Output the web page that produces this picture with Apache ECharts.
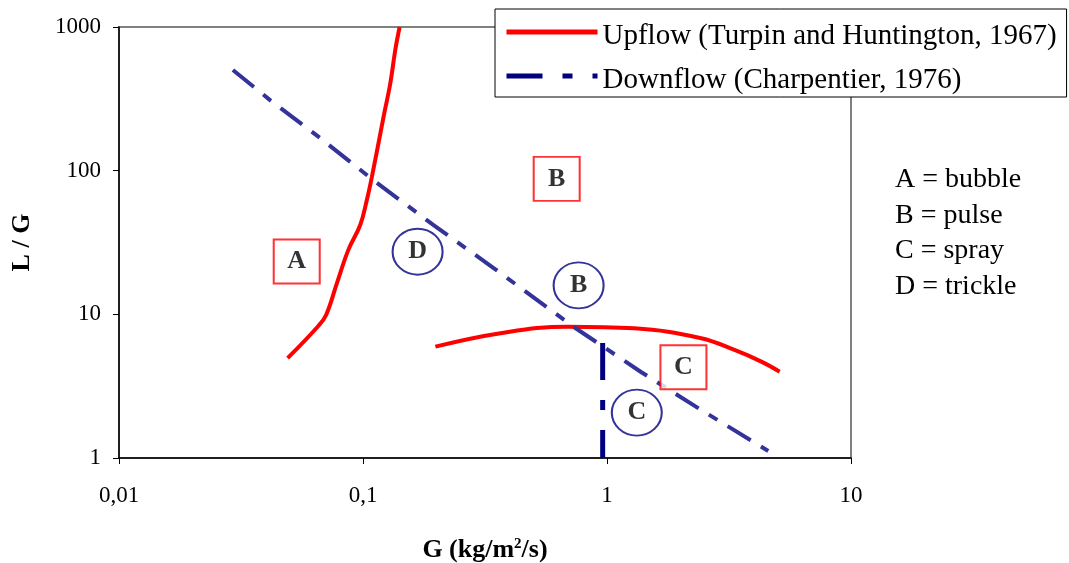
<!DOCTYPE html>
<html>
<head>
<meta charset="utf-8">
<script src="https://cdn.jsdelivr.net/npm/echarts@6/dist/echarts.min.js"></script>
<style>
  html, body { margin: 0; padding: 0; background: #fff; }
  #chart { width: 1069px; height: 563px; }
</style>
</head>
<body>
<div id="chart"></div>
<script>
// axis ticks
const xTicks = [0.01, 0.1, 1, 10]
const xTickLabels = ['0,01', '0,1', '1', '10']
const yTicks = [1, 10, 100, 1000]
const yTickLabels = ['1', '10', '100', '1000']

// Upflow (Turpin and Huntington, 1967): G, L/G
const upflowLowG = [0.0491, 0.0656, 0.0706, 0.0782, 0.0871, 0.0974, 0.1037, 0.1088, 0.1214, 0.1294, 0.1356, 0.1413]
const upflowLowLG = [4.95, 8.3, 9.9, 16.5, 28.1, 41.9, 62.5, 90.8, 237, 406, 692, 1000]
const upflowHighG = [0.198, 0.366, 0.689, 1.294, 2.432, 3.33, 4.29, 5.1]
const upflowHighLG = [5.96, 7.39, 8.21, 8.0, 6.82, 5.65, 4.69, 3.99]

// Downflow (Charpentier, 1976)
const downflowG = [0.0293, 0.0416, 0.0667, 0.110, 0.194, 0.343, 0.731, 1.378, 2.432, 4.58]
const downflowLG = [502, 310, 169, 86.1, 41.9, 21.0, 8.17, 3.97, 2.16, 1.12]
const downflowEdgeG = [0.96, 0.96]
const downflowEdgeLG = [6.32, 1]

// regime labels (upflow = boxes, downflow = circles)
const boxLabels = ['A', 'B', 'C']
const boxG = [0.0535, 0.622, 2.057]
const boxLG = [23.3, 87.7, 4.28]
const circleLabels = ['D', 'B', 'C']
const circleG = [0.1674, 0.765, 1.3245]
const circleLG = [27.3, 15.9, 2.07]

const notes = ['A = bubble', 'B = pulse', 'C = spray', 'D = trickle']

const upName = 'Upflow (Turpin and Huntington, 1967)'
const downName = 'Downflow (Charpentier, 1976)'
const serif = 'Liberation Serif'

const zip = (xs, ys) => xs.map((x, i) => [x, ys[i]])
const tickText = (ticks, labels) => v => {
  let best = 0
  ticks.forEach((t, i) => {
    if (Math.abs(Math.log10(t) - Math.log10(v)) < Math.abs(Math.log10(ticks[best]) - Math.log10(v))) best = i
  })
  return labels[best]
}

const chart = echarts.init(document.getElementById('chart'), null, { renderer: 'canvas' })

const option = {
  animation: false,
  backgroundColor: '#fff',
  grid: {
    left: 119, right: 218, top: 27, bottom: 105,
    outerBoundsMode: 'none',
    show: true, borderColor: '#808080', borderWidth: 2
  },
  legend: {
    orient: 'vertical',
    left: 495, top: 9,
    padding: [12.5, 10, 2.5, 9],
    itemGap: 15,
    itemWidth: 91,
    itemHeight: 14,
    backgroundColor: '#fff',
    borderColor: '#000',
    borderWidth: 1,
    itemStyle: { opacity: 0 },
    formatter: name => '{t|' + name + '}',
    textStyle: {
      fontFamily: serif, fontSize: 29, color: '#000',
      rich: { t: { fontFamily: serif, fontSize: 29, color: '#000', padding: [8, 0, 0, 0] } }
    },
    data: [
      { name: upName, lineStyle: { color: '#ff0000', width: 5, type: 'solid' } },
      { name: downName, lineStyle: { color: '#000080', width: 5, type: [36, 20, 10, 20] } }
    ]
  },
  xAxis: {
    type: 'log', logBase: 10, min: 0.01, max: 10,
    name: 'G (kg/m{sup|2}/s)',
    nameLocation: 'middle', nameGap: 79,
    nameTextStyle: {
      fontFamily: serif, fontSize: 26, fontWeight: 'bold', color: '#000',
      rich: { sup: { fontFamily: serif, fontSize: 15, fontWeight: 'bold', verticalAlign: 'top', padding: [0, 0, 12, 0] } }
    },
    axisLine: { lineStyle: { color: '#000', width: 1.5 } },
    axisTick: { length: 6, lineStyle: { color: '#000' } },
    axisLabel: { formatter: tickText(xTicks, xTickLabels), fontFamily: serif, fontSize: 23, color: '#000', margin: 26 },
    splitLine: { show: false }
  },
  yAxis: {
    type: 'log', logBase: 10, min: 1, max: 1000,
    name: 'L / G',
    nameLocation: 'middle', nameGap: 84, nameRotate: 90,
    nameTextStyle: { fontFamily: serif, fontSize: 26, fontWeight: 'bold', color: '#000' },
    axisLine: { lineStyle: { color: '#000', width: 1.5 } },
    axisTick: { length: 6, lineStyle: { color: '#000' } },
    axisLabel: { formatter: tickText(yTicks, yTickLabels), fontFamily: serif, fontSize: 23, color: '#000', margin: 18 },
    splitLine: { show: false }
  },
  series: [
    {
      name: upName, type: 'line', data: zip(upflowLowG, upflowLowLG),
      symbol: 'none', smooth: 0.4,
      lineStyle: { color: '#ff0000', width: 4 }, itemStyle: { color: '#ff0000' }
    },
    {
      name: upName, type: 'line', data: zip(upflowHighG, upflowHighLG),
      symbol: 'none', smooth: 0.4,
      lineStyle: { color: '#ff0000', width: 4 }, itemStyle: { color: '#ff0000' }
    },
    {
      name: downName, type: 'line', data: zip(downflowG, downflowLG),
      symbol: 'none',
      lineStyle: { color: '#333399', width: 4, type: [27, 12, 10, 12] }, itemStyle: { color: '#000080' }
    },
    {
      name: downName, type: 'line', data: zip(downflowEdgeG, downflowEdgeLG),
      symbol: 'none',
      lineStyle: { color: '#000080', width: 5, type: [37, 20, 10, 20] }, itemStyle: { color: '#000080' }
    },
    {
      name: 'upflow regimes', type: 'scatter', z: 5,
      data: boxLabels.map((l, i) => [boxG[i], boxLG[i], l]),
      symbol: 'rect', symbolSize: [46, 44],
      itemStyle: { color: '#fff', borderColor: '#ff0000', borderWidth: 2 },
      label: {
        show: true, position: 'inside', formatter: p => p.value[2],
        fontFamily: serif, fontSize: 26, fontWeight: 'bold', color: '#000'
      }
    },
    {
      name: 'downflow regimes', type: 'scatter', z: 5,
      data: circleLabels.map((l, i) => [circleG[i], circleLG[i], l]),
      symbol: 'circle', symbolSize: [50, 46],
      itemStyle: { color: '#fff', borderColor: '#000080', borderWidth: 2 },
      label: {
        show: true, position: 'inside', formatter: p => p.value[2],
        fontFamily: serif, fontSize: 26, fontWeight: 'bold', color: '#000'
      }
    }
  ],
  graphic: [{
    type: 'text', left: 895, top: 162,
    style: { text: notes.join('\n'), fontFamily: serif, fontSize: 28, lineHeight: 35.5, fill: '#000' }
  }]
}

chart.setOption(option)
</script>
</body>
</html>
